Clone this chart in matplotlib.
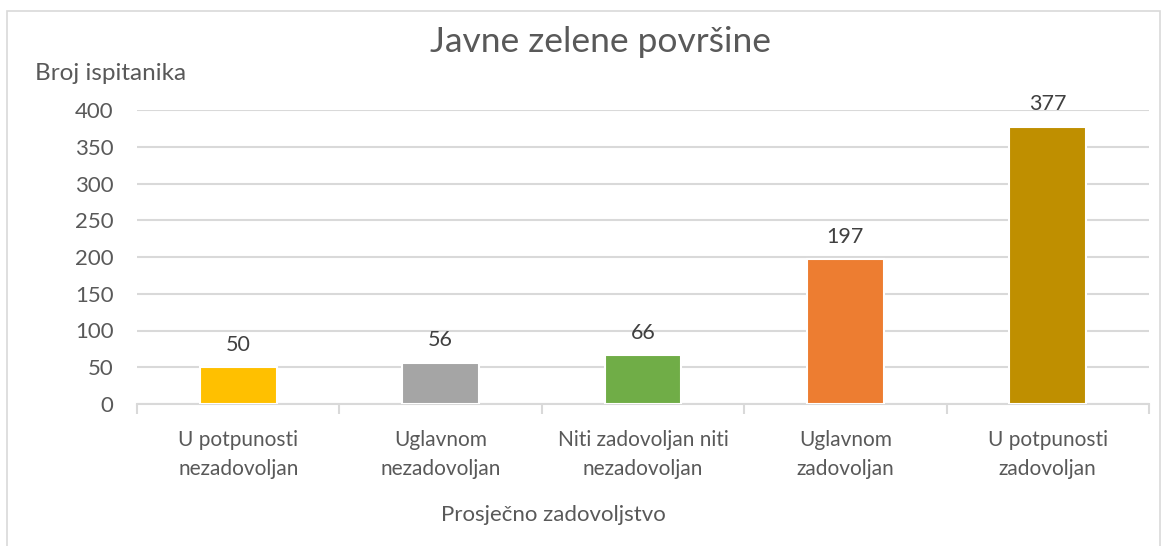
import matplotlib
matplotlib.use('Agg')
import matplotlib.pyplot as plt
import matplotlib.patches as mpatches
import numpy as np

plt.rcParams['font.family'] = ['Lato', 'DejaVu Sans']

# data
categories = ['U potpunosti\nnezadovoljan', 'Uglavnom\nnezadovoljan',
              'Niti zadovoljan niti\nnezadovoljan', 'Uglavnom\nzadovoljan',
              'U potpunosti\nzadovoljan']
values = [50, 56, 66, 197, 377]
bar_colors = ['#ffc000', '#a5a5a5', '#70ad47', '#ed7d31', '#bf8f00']
y_ticks = [0, 50, 100, 150, 200, 250, 300, 350, 400]

text_grey = '#595959'
grid_grey = '#d9d9d9'

fig = plt.figure(figsize=(11.67, 5.46), dpi=100, facecolor='white')
ax = fig.add_axes([137 / 1167, 1 - 404 / 546, (1149 - 137) / 1167, (404 - 110) / 546])

# outer chart frame
frame = mpatches.Rectangle((7 / 1167, -0.05), (1160 - 7) / 1167, 1.05 - 11 / 546,
                           transform=fig.transFigure, fill=False,
                           edgecolor=grid_grey, linewidth=1.2)
fig.patches.append(frame)

x = np.arange(len(categories))
bars = ax.bar(x, values, width=0.38, color=bar_colors, edgecolor='white',
              linewidth=1.5, zorder=3)

for bar, v in zip(bars, values):
    ax.annotate(f'{v}', xy=(bar.get_x() + bar.get_width() / 2, v),
                xytext=(0, 9), textcoords='offset points',
                ha='center', va='bottom', fontsize=15.5, color='#404040')

ax.set_xlim(-0.5, len(categories) - 0.5)
ax.set_ylim(0, 400)
ax.set_yticks(y_ticks)
ax.set_yticklabels([str(t) for t in y_ticks], fontsize=16, color=text_grey)
ax.yaxis.grid(True, color=grid_grey, linewidth=1.5, zorder=0)
ax.set_axisbelow(True)

ax.set_xticks(x)
ax.set_xticklabels(categories, fontsize=15, color=text_grey, linespacing=1.55)
ax.set_xticks(np.arange(len(categories) + 1) - 0.5, minor=True)
ax.tick_params(axis='x', which='major', length=0, pad=19)
ax.tick_params(axis='x', which='minor', length=7, width=1.5, color=grid_grey)
ax.tick_params(axis='y', length=0, pad=17)

for s in ['top', 'right', 'left']:
    ax.spines[s].set_visible(False)
ax.spines['bottom'].set_color(grid_grey)
ax.spines['bottom'].set_linewidth(1.5)

fig.text(600 / 1167, 1 - 42 / 546, 'Javne zelene površine', ha='center', va='center',
         fontsize=25.5, color=text_grey)
fig.text(35 / 1167, 1 - 74 / 546, 'Broj ispitanika', ha='left', va='center',
         fontsize=17.5, color=text_grey)
fig.text(553 / 1167, 1 - 515 / 546, 'Prosječno zadovoljstvo', ha='center', va='center',
         fontsize=16, color=text_grey)

fig.savefig('out.png', dpi=100, facecolor='white')
